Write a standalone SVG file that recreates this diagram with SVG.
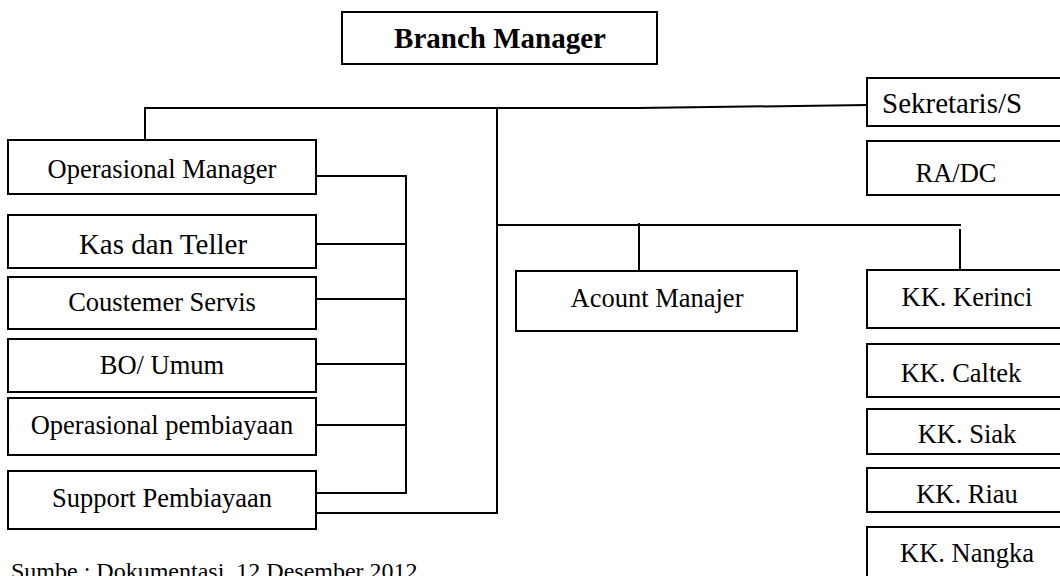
<svg xmlns="http://www.w3.org/2000/svg" width="1060" height="576" viewBox="0 0 1060 576">
<style>
.box{fill:#fff;stroke:#000;stroke-width:2}
.t{font-family:"Liberation Serif","Times New Roman",serif;font-size:26.5px;fill:#000;text-anchor:middle}
.big{font-size:29px}
.bold{font-weight:bold;font-size:29px}
.ln{fill:none;stroke:#000;stroke-width:2}
</style>
<rect width="1060" height="576" fill="#fff"/>
<g id="connectors">
<polyline class="ln" points="145,141 145,108 638,108 868,105"/>
<line class="ln" x1="497" y1="107" x2="497" y2="514"/>
<line class="ln" x1="316" y1="513" x2="498" y2="513"/>
<polyline class="ln" points="316,176 406,176 406,493"/>
<line class="ln" x1="316" y1="244" x2="406" y2="244"/>
<line class="ln" x1="316" y1="299" x2="406" y2="299"/>
<line class="ln" x1="316" y1="364" x2="406" y2="364"/>
<line class="ln" x1="316" y1="425" x2="406" y2="425"/>
<line class="ln" x1="316" y1="493" x2="407" y2="493"/>
<line class="ln" x1="497" y1="225" x2="961" y2="225"/>
<line class="ln" x1="639" y1="223" x2="639" y2="270"/>
<line class="ln" x1="960" y1="229" x2="960" y2="271"/>
</g>
<g id="branch-manager"><rect class="box" x="342" y="12" width="315" height="52"/><text class="t bold" x="500" y="48">Branch Manager</text></g>
<g id="operasional-manager"><rect class="box" x="8" y="140" width="308" height="54"/><text class="t" x="162" y="178">Operasional Manager</text></g>
<g id="kas-dan-teller"><rect class="box" x="8" y="215" width="308" height="53"/><text class="t big" x="163" y="254">Kas dan Teller</text></g>
<g id="coustemer-servis"><rect class="box" x="8" y="277" width="308" height="52"/><text class="t" x="162" y="311">Coustemer Servis</text></g>
<g id="bo-umum"><rect class="box" x="8" y="339" width="308" height="53"/><text class="t" x="162" y="374">BO/ Umum</text></g>
<g id="operasional-pembiayaan"><rect class="box" x="8" y="398" width="308" height="57"/><text class="t" x="162" y="434">Operasional pembiayaan</text></g>
<g id="support-pembiayaan"><rect class="box" x="8" y="471" width="308" height="58"/><text class="t" x="162" y="507">Support Pembiayaan</text></g>
<g id="acount-manajer"><rect class="box" x="516" y="271" width="281" height="60"/><text class="t" x="657" y="307">Acount Manajer</text></g>
<g id="sekretaris"><rect class="box" x="867" y="78" width="205" height="48"/><text class="t big" x="882" y="113" style="text-anchor:start">Sekretaris/S</text></g>
<g id="ra-dc"><rect class="box" x="867" y="141" width="205" height="54"/><text class="t" x="956" y="182">RA/DC</text></g>
<g id="kk-kerinci"><rect class="box" x="867" y="270" width="205" height="58"/><text class="t" x="967" y="306">KK. Kerinci</text></g>
<g id="kk-caltek"><rect class="box" x="867" y="344" width="205" height="53"/><text class="t" x="961" y="382">KK. Caltek</text></g>
<g id="kk-siak"><rect class="box" x="867" y="409" width="205" height="45"/><text class="t" x="967" y="443">KK. Siak</text></g>
<g id="kk-riau"><rect class="box" x="867" y="468" width="205" height="44"/><text class="t" x="967" y="503">KK. Riau</text></g>
<g id="kk-nangka"><rect class="box" x="867" y="527" width="205" height="60"/><text class="t" x="967" y="562">KK. Nangka</text></g>
<text class="t" x="11" y="579" style="text-anchor:start;font-size:24px">Sumbe : Dokumentasi, 12 Desember 2012</text>
</svg>
